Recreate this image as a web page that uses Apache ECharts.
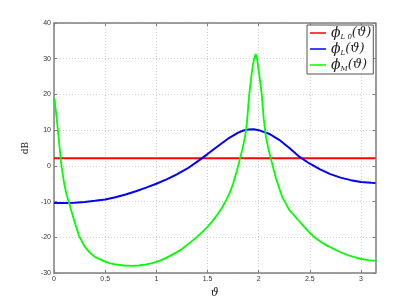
<!DOCTYPE html>
<html><head><meta charset="utf-8">
<script src="https://cdn.jsdelivr.net/npm/echarts@6/dist/echarts.min.js"></script>
<style>html,body{margin:0;padding:0;background:#fff}#c{width:415px;height:307px}</style>
</head><body><div id="c"></div>
<script>
var seriesNames = ['phiL0', 'phiL', 'phiM'];
var xTicks = [0, 0.5, 1, 1.5, 2, 2.5, 3];
var yTicks = [-30, -20, -10, 0, 10, 20, 30, 40];

var thetaRed = [0, 3.14159];
var valRed = [2.1, 2.1];

var thetaBlue = [0, 0.1, 0.2, 0.3, 0.4, 0.5, 0.6, 0.7, 0.8, 0.9, 1.0, 1.1, 1.2, 1.3, 1.4, 1.5, 1.6, 1.7, 1.8, 1.85, 1.9, 1.95, 2.0, 2.1, 2.2, 2.3, 2.4, 2.5, 2.6, 2.7, 2.8, 2.9, 3.0, 3.1, 3.14159];
var valBlue = [-10.4, -10.4, -10.3, -10.1, -9.8, -9.4, -8.8, -8.0, -7.1, -6.1, -5.0, -3.8, -2.4, -0.8, 1.2, 3.3, 5.5, 7.6, 9.3, 9.9, 10.2, 10.25, 10.0, 9.0, 7.3, 5.0, 2.5, 0.6, -1.0, -2.3, -3.3, -4.0, -4.5, -4.75, -4.8];

var thetaGreen = [0, 0.01, 0.02, 0.03, 0.045, 0.065, 0.08, 0.1, 0.125, 0.147, 0.175, 0.2, 0.244, 0.3, 0.35, 0.4, 0.45, 0.5, 0.55, 0.6, 0.68, 0.76, 0.83, 0.9, 0.95, 1.0, 1.05, 1.1, 1.18, 1.25, 1.32, 1.4, 1.45, 1.5, 1.55, 1.6, 1.64, 1.688, 1.72, 1.75, 1.785, 1.818, 1.84, 1.867, 1.885, 1.906, 1.93, 1.945, 1.958, 1.971, 1.984, 2.0, 2.015, 2.03, 2.05, 2.072, 2.09, 2.118, 2.17, 2.23, 2.3, 2.39, 2.45, 2.5, 2.55, 2.6, 2.66, 2.73, 2.8, 2.88, 2.99, 3.07, 3.14159];
var valGreen = [19.0, 17.5, 15.0, 12.3, 8.0, 2.1, -1.5, -5.0, -8.3, -10.3, -13.1, -15.6, -19.6, -22.6, -24.3, -25.5, -26.2, -26.8, -27.3, -27.6, -27.9, -28.0, -27.9, -27.6, -27.3, -26.9, -26.4, -25.7, -24.5, -23.3, -21.7, -19.8, -18.5, -17.1, -15.4, -13.5, -11.8, -9.3, -7.3, -5.0, -1.6, 2.1, 4.6, 8.2, 12.0, 19.5, 25.5, 28.5, 30.2, 31.3, 30.0, 26.5, 23.5, 20.0, 13.0, 7.9, 5.5, 2.1, -3.6, -8.7, -12.4, -15.3, -17.2, -18.8, -20.1, -21.1, -22.2, -23.2, -24.2, -25.1, -26.0, -26.4, -26.6];

function pairs(xs, ys) { return xs.map(function (x, i) { return [x, ys[i]]; }); }

var chart = echarts.init(document.getElementById('c'), null, {renderer: 'canvas'});
var axisLineStyle = {color: '#7f7f7f', width: 1.5};
var labelStyle = {fontFamily: 'Liberation Sans', fontSize: 7, color: '#333'};
var legendMap = {
  phiL0: '{p|ϕ}{s|L 0}{q|(ϑ)}',
  phiL: '{p|ϕ}{s|L}{q|(ϑ)}',
  phiM: '{p|ϕ}{s|M}{q|(ϑ)}'
};
chart.setOption({
  animation: false,
  backgroundColor: '#fff',
  grid: {left: 54, right: 39.5, top: 23, bottom: 34, show: false},
  legend: {
    orient: 'vertical', left: 307, top: 25,
    backgroundColor: '#fff', borderColor: '#555', borderWidth: 1,
    padding: [1, 2, 1, 3], itemGap: 1,
    itemWidth: 16, itemHeight: 1.5, icon: 'rect',
    data: seriesNames,
    formatter: function (n) { return legendMap[n]; },
    textStyle: {
      rich: {
        p: {fontFamily: 'DejaVu Serif', fontStyle: 'italic', fontSize: 14, color: '#222', height: 16},
        s: {fontFamily: 'DejaVu Serif', fontStyle: 'italic', fontSize: 7, color: '#222', verticalAlign: 'bottom', padding: [8, 0, 0, 0]},
        q: {fontFamily: 'DejaVu Serif', fontStyle: 'italic', fontSize: 13, color: '#222'}
      }
    }
  },
  xAxis: [{
    type: 'value', min: 0, max: Math.PI, interval: 0.5, position: 'bottom',
    name: 'ϑ', nameLocation: 'middle', nameGap: 15,
    nameTextStyle: {fontFamily: 'DejaVu Serif', fontStyle: 'italic', fontSize: 11, color: '#222'},
    axisLine: {show: true, lineStyle: axisLineStyle, onZero: false},
    axisTick: {show: true, inside: true, length: 3, lineStyle: {color: '#7f7f7f'}},
    axisLabel: Object.assign({margin: 3, showMaxLabel: false, formatter: function (v) {
      return Math.abs(v - Math.round(v * 2) / 2) < 1e-6 ? String(v) : '';
    }}, labelStyle),
    splitLine: {show: true, lineStyle: {color: '#d0d0d0', type: [1, 2], width: 1}}
  }, {
    type: 'value', min: 0, max: Math.PI, interval: 0.5, position: 'top',
    axisLine: {show: true, lineStyle: axisLineStyle, onZero: false},
    axisTick: {show: true, inside: true, length: 3, lineStyle: {color: '#7f7f7f'}},
    axisLabel: {show: false}, splitLine: {show: false}
  }],
  yAxis: [{
    type: 'value', min: -30, max: 40, interval: 10, position: 'left',
    name: 'dB', nameLocation: 'middle', nameGap: 17,
    nameTextStyle: {fontFamily: 'DejaVu Serif', fontSize: 9, color: '#222'},
    axisLine: {show: true, lineStyle: axisLineStyle, onZero: false},
    axisTick: {show: true, inside: true, length: 3, lineStyle: {color: '#7f7f7f'}},
    axisLabel: Object.assign({margin: 3}, labelStyle),
    splitLine: {show: true, lineStyle: {color: '#d0d0d0', type: [1, 2], width: 1}}
  }, {
    type: 'value', min: -30, max: 40, interval: 10, position: 'right',
    axisLine: {show: true, lineStyle: axisLineStyle, onZero: false},
    axisTick: {show: true, inside: true, length: 3, lineStyle: {color: '#7f7f7f'}},
    axisLabel: {show: false}, splitLine: {show: false}
  }],
  series: [
    {name: 'phiL0', type: 'line', data: pairs(thetaRed, valRed), showSymbol: false, symbol: 'none',
     lineStyle: {color: '#ff0000', width: 2}, itemStyle: {color: '#ff0000'}, z: 3},
    {name: 'phiL', type: 'line', data: pairs(thetaBlue, valBlue), showSymbol: false, symbol: 'none',
     lineStyle: {color: '#0000ff', width: 2}, itemStyle: {color: '#0000ff'}, z: 4},
    {name: 'phiM', type: 'line', data: pairs(thetaGreen, valGreen), showSymbol: false, symbol: 'none',
     lineStyle: {color: '#00ff00', width: 1.8}, itemStyle: {color: '#00ff00'}, z: 5}
  ]
});
</script></body></html>
